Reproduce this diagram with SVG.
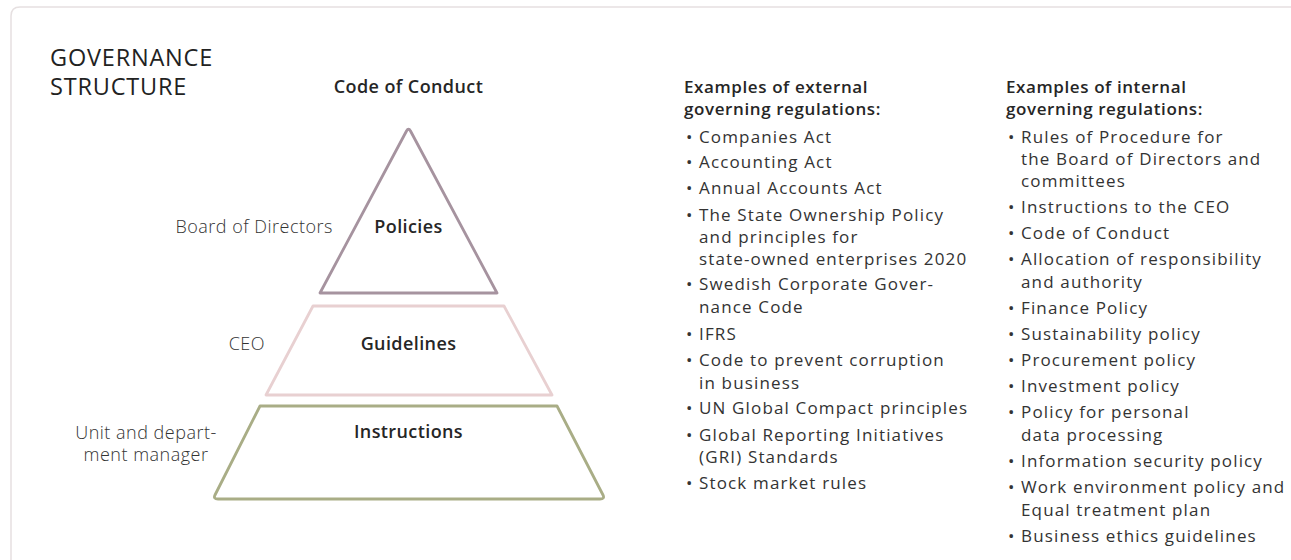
<svg xmlns="http://www.w3.org/2000/svg" width="1291" height="560" viewBox="0 0 1291 560">
<style>
text{font-family:"Open Sans","Noto Sans","Liberation Sans",sans-serif;fill:#2e2e2e}
.title{font-size:23.5px;font-weight:500;letter-spacing:0.8px;fill:#222}
.lvl{font-size:18px;font-weight:600;letter-spacing:0.4px;text-anchor:middle;fill:#262626}
.side{font-size:18px;font-weight:300;letter-spacing:0.5px;fill:#333}
.hd{font-size:17px;font-weight:600;letter-spacing:0.6px;fill:#262626}
.li{font-size:17px;font-weight:400;letter-spacing:1.15px;fill:#333}
.shape{fill:none;stroke-width:2.8;stroke-linejoin:round}
</style>
<rect width="1291" height="560" fill="#ffffff"/>
<path d="M11,580 V16 Q11,7 20,7 H1310" fill="none" stroke="#e6e0e1" stroke-width="1.5"/>
<g id="title">
<text class="title" x="50" y="66">GOVERNANCE</text>
<text class="title" x="50" y="95">STRUCTURE</text>
</g>
<g id="code-of-conduct"><text class="lvl" x="408.5" y="93">Code of Conduct</text></g>
<g id="policies">
<path class="shape" stroke="#a6939f" d="M320,293 L406.5,131 Q408.5,127.5 410.5,131 L497,293 Z"/>
<text class="lvl" x="408.5" y="233">Policies</text>
<text class="side" x="333" y="233" text-anchor="end">Board of Directors</text>
</g>
<g id="guidelines">
<path class="shape" stroke="#e8d0d1" d="M313,306 H504 L552,395 H266 Z"/>
<text class="lvl" x="408.5" y="350">Guidelines</text>
<text class="side" x="265" y="350" text-anchor="end">CEO</text>
</g>
<g id="instructions">
<path class="shape" stroke="#a9ad86" d="M260,406 H557 L603,495 Q605,499 600,499 H218 Q213,499 215,495 Z"/>
<text class="lvl" x="408.5" y="438">Instructions</text>
<text class="side" x="146" y="439" text-anchor="middle">Unit and depart-</text>
<text class="side" x="146" y="461" text-anchor="middle">ment manager</text>
</g>
<g id="connectors"></g>
<g id="external">
<text class="hd" x="684" y="93">Examples of external</text>
<text class="hd" x="684" y="115">governing regulations:</text>
<text class="li" x="686" y="142.7">•</text><text class="li" x="699" y="142.7">Companies Act</text>
<text class="li" x="686" y="168">•</text><text class="li" x="699" y="168">Accounting Act</text>
<text class="li" x="686" y="194">•</text><text class="li" x="699" y="194">Annual Accounts Act</text>
<text class="li" x="686" y="220.7">•</text><text class="li" x="699" y="220.7">The State Ownership Policy</text>
<text class="li" x="699" y="243">and principles for</text>
<text class="li" x="699" y="264.5">state-owned enterprises 2020</text>
<text class="li" x="686" y="289.5">•</text><text class="li" x="699" y="289.5">Swedish Corporate Gover-</text>
<text class="li" x="699" y="312.5">nance Code</text>
<text class="li" x="686" y="340">•</text><text class="li" x="699" y="340">IFRS</text>
<text class="li" x="686" y="366">•</text><text class="li" x="699" y="366">Code to prevent corruption</text>
<text class="li" x="699" y="388.5">in business</text>
<text class="li" x="686" y="414">•</text><text class="li" x="699" y="414">UN Global Compact principles</text>
<text class="li" x="686" y="440.5">•</text><text class="li" x="699" y="440.5">Global Reporting Initiatives</text>
<text class="li" x="699" y="463">(GRI) Standards</text>
<text class="li" x="686" y="489">•</text><text class="li" x="699" y="489">Stock market rules</text>
</g>
<g id="internal">
<text class="hd" x="1006" y="93">Examples of internal</text>
<text class="hd" x="1006" y="115">governing regulations:</text>
<text class="li" x="1008" y="142.7">•</text><text class="li" x="1021" y="142.7">Rules of Procedure for</text>
<text class="li" x="1021" y="165">the Board of Directors and</text>
<text class="li" x="1021" y="186.7">committees</text>
<text class="li" x="1008" y="213">•</text><text class="li" x="1021" y="213">Instructions to the CEO</text>
<text class="li" x="1008" y="239">•</text><text class="li" x="1021" y="239">Code of Conduct</text>
<text class="li" x="1008" y="265">•</text><text class="li" x="1021" y="265">Allocation of responsibility</text>
<text class="li" x="1021" y="287.7">and authority</text>
<text class="li" x="1008" y="314">•</text><text class="li" x="1021" y="314">Finance Policy</text>
<text class="li" x="1008" y="340">•</text><text class="li" x="1021" y="340">Sustainability policy</text>
<text class="li" x="1008" y="366">•</text><text class="li" x="1021" y="366">Procurement policy</text>
<text class="li" x="1008" y="392">•</text><text class="li" x="1021" y="392">Investment policy</text>
<text class="li" x="1008" y="418">•</text><text class="li" x="1021" y="418">Policy for personal</text>
<text class="li" x="1021" y="441">data processing</text>
<text class="li" x="1008" y="467">•</text><text class="li" x="1021" y="467">Information security policy</text>
<text class="li" x="1008" y="493">•</text><text class="li" x="1021" y="493">Work environment policy and</text>
<text class="li" x="1021" y="516">Equal treatment plan</text>
<text class="li" x="1008" y="542">•</text><text class="li" x="1021" y="542">Business ethics guidelines</text>
</g>
</svg>
